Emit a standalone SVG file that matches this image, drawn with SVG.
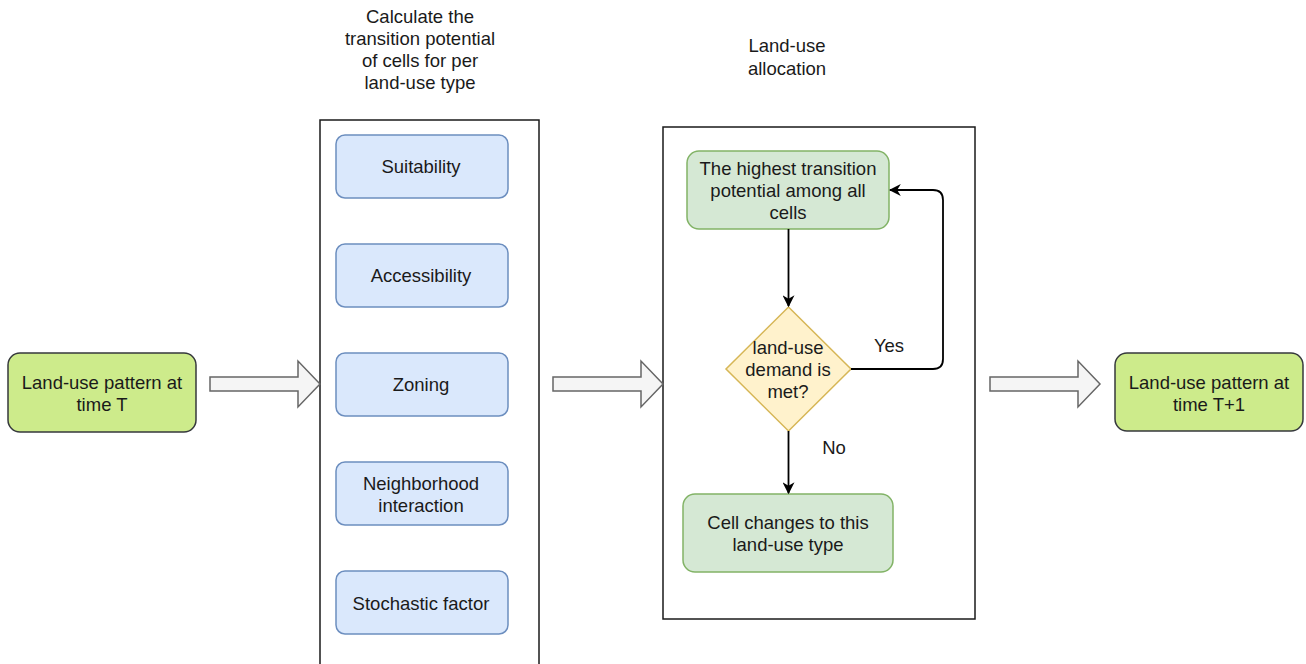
<svg xmlns="http://www.w3.org/2000/svg" width="1306" height="664" viewBox="0 0 1306 664">
  <defs>
    <marker id="arrow" viewBox="0 0 10 10" refX="9" refY="5" markerWidth="12" markerHeight="12" markerUnits="userSpaceOnUse" orient="auto">
      <path d="M0,0 L10,5 L0,10 L3,5 Z" fill="#000"/>
    </marker>
    <style>
      text { font-family: "Liberation Sans", Arial, sans-serif; font-size: 18.5px; fill: #1a1a1a; text-anchor: middle; }
      .state { fill: #cdeb8b; stroke: #36393d; stroke-width: 1.5; }
      .factor { fill: #dae8fc; stroke: #6c8ebf; stroke-width: 1.5; }
      .step { fill: #d5e8d4; stroke: #82b366; stroke-width: 1.5; }
      .decision { fill: #fff2cc; stroke: #d6b656; stroke-width: 1.5; }
      .panel { fill: #fff; stroke: #1a1a1a; stroke-width: 1.5; }
      .flow { fill: #f5f5f5; stroke: #666; stroke-width: 1.5; }
      .edge { fill: none; stroke: #000; stroke-width: 1.8; }
    </style>
  </defs>
  <rect width="1306" height="664" fill="#fff"/>

  <!-- panel titles -->
  <g id="title-potential">
    <text x="420" y="23">Calculate the</text>
    <text x="420" y="45">transition potential</text>
    <text x="420" y="67">of cells for per</text>
    <text x="420" y="89">land-use type</text>
  </g>
  <g id="title-allocation">
    <text x="787" y="52">Land-use</text>
    <text x="787" y="75">allocation</text>
  </g>

  <!-- containers -->
  <g id="panel-potential"><rect class="panel" x="320" y="120" width="219" height="560"/></g>
  <g id="panel-allocation"><rect class="panel" x="663" y="127" width="312" height="492"/></g>

  <!-- input / output states -->
  <g id="state-t">
    <rect class="state" x="8" y="353" width="188" height="79" rx="12"/>
    <text x="102" y="389">Land-use pattern at</text>
    <text x="102" y="411">time T</text>
  </g>
  <g id="state-t1">
    <rect class="state" x="1115" y="353" width="188" height="78" rx="12"/>
    <text x="1209" y="389">Land-use pattern at</text>
    <text x="1209" y="411">time T+1</text>
  </g>

  <!-- transition potential factors -->
  <g id="factor-suitability">
    <rect class="factor" x="336" y="135" width="172" height="63" rx="9"/>
    <text x="421" y="173">Suitability</text>
  </g>
  <g id="factor-accessibility">
    <rect class="factor" x="336" y="244" width="172" height="63" rx="9"/>
    <text x="421" y="282">Accessibility</text>
  </g>
  <g id="factor-zoning">
    <rect class="factor" x="336" y="353" width="172" height="63" rx="9"/>
    <text x="421" y="391">Zoning</text>
  </g>
  <g id="factor-neighborhood">
    <rect class="factor" x="336" y="462" width="172" height="63" rx="9"/>
    <text x="421" y="490">Neighborhood</text>
    <text x="421" y="512">interaction</text>
  </g>
  <g id="factor-stochastic">
    <rect class="factor" x="336" y="571" width="172" height="63" rx="9"/>
    <text x="421" y="610">Stochastic factor</text>
  </g>

  <!-- allocation loop -->
  <g id="step-highest">
    <rect class="step" x="687" y="151" width="202" height="78" rx="12"/>
    <text x="788" y="175">The highest transition</text>
    <text x="788" y="197">potential among all</text>
    <text x="788" y="219">cells</text>
  </g>
  <g id="decision-demand">
    <polygon class="decision" points="788.5,307 851,369 788.5,431 726,369"/>
    <text x="788" y="354">land-use</text>
    <text x="788" y="376">demand is</text>
    <text x="788" y="398">met?</text>
  </g>
  <g id="step-change">
    <rect class="step" x="683" y="494" width="210" height="78" rx="12"/>
    <text x="788" y="529">Cell changes to this</text>
    <text x="788" y="551">land-use type</text>
  </g>

  <!-- connectors -->
  <g id="connectors">
    <polygon id="flow-in" class="flow" points="210,377 298,377 298,361 320,384 298,407 298,391 210,391"/>
    <polygon id="flow-mid" class="flow" points="553,377 641,377 641,361 663,384 641,407 641,391 553,391"/>
    <polygon id="flow-out" class="flow" points="990,377 1078,377 1078,361 1100,384 1078,407 1078,391 990,391"/>
    <path id="edge-check" class="edge" d="M788.5,229 L788.5,306" marker-end="url(#arrow)"/>
    <path id="edge-yes" class="edge" d="M851,369 L933,369 Q943,369 943,359 L943,200 Q943,190 933,190 L890,190" marker-end="url(#arrow)"/>
    <path id="edge-no" class="edge" d="M788.5,431 L788.5,493" marker-end="url(#arrow)"/>
    <text x="889" y="352">Yes</text>
    <text x="834" y="454">No</text>
  </g>
</svg>
